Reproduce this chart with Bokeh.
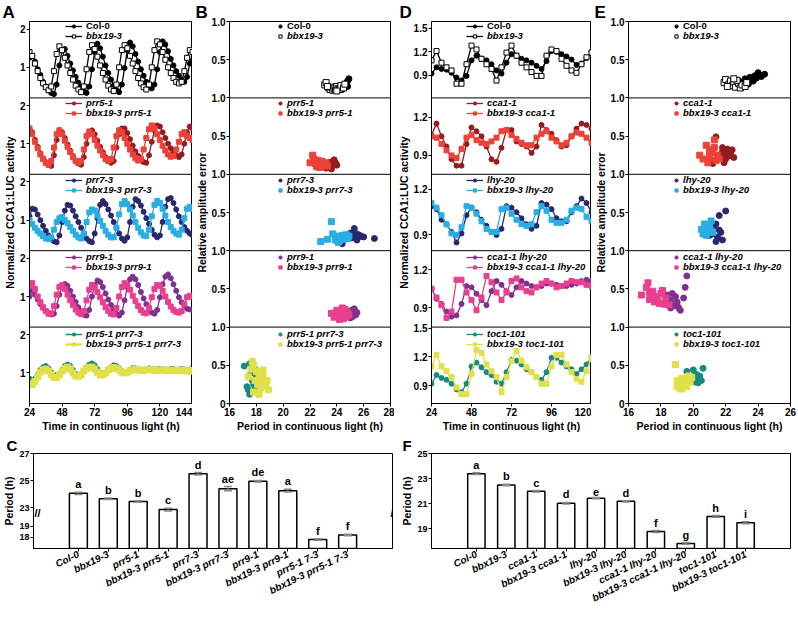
from bokeh.plotting import figure
from bokeh.models import (Range1d, FactorRange, FixedTicker, Span, Label, Legend, LegendItem, Title)
from bokeh.core.properties import value
from bokeh.layouts import row, column
from bokeh.embed import file_html
from bokeh.resources import INLINE

FONT = "Liberation Sans"
FRAME_H = 385
PANEL_H = FRAME_H / 5
TOP_B = 20
BOT_B = 29
ITEM_H = 12

BLACK = "#000000"; DRED = "#951c21"; RED = "#ec4238"; NAVY = "#29286e"; CYAN = "#29aee4"
PURPLE = "#7e3190"; PINK = "#ea3f8f"; TEAL = "#168a80"; YELLOW = "#e2e04a"

# ---------------- data: panel A (time every 2 h) ----------------
TIME_A = [24, 26, 28, 30, 32, 34, 36, 38, 40, 42, 44, 46, 48, 50, 52, 54, 56, 58, 60, 62,
          64, 66, 68, 70, 72, 74, 76, 78, 80, 82, 84, 86, 88, 90, 92, 94, 96, 98, 100, 102,
          104, 106, 108, 110, 112, 114, 116, 118, 120, 122, 124, 126, 128, 130, 132, 134,
          136, 138, 140, 142, 144]
A_COL0 = [1.25, 1.30, 1.15, 0.95, 0.80, 0.62, 0.50, 0.40, 0.33, 0.30,
          0.55, 1.05, 1.45, 1.48, 1.30, 1.10, 0.92, 0.75, 0.60, 0.48,
          0.38, 0.33, 0.50, 0.95, 1.40, 1.62, 1.50, 1.28, 1.05, 0.85,
          0.68, 0.52, 0.40, 0.35, 0.55, 0.98, 1.45, 1.65, 1.55, 1.35,
          1.15, 0.95, 0.78, 0.62, 0.52, 0.45, 0.55, 0.95, 1.40, 1.68,
          1.60, 1.42, 1.22, 1.05, 0.90, 0.78, 0.68, 0.62, 0.75, 1.10, 1.40]
A_BBX193 = [1.40, 1.30, 1.10, 0.90, 0.72, 0.58, 0.48, 0.40, 0.50, 0.90,
            1.35, 1.55, 1.45, 1.25, 1.05, 0.85, 0.68, 0.52, 0.42, 0.35,
            0.50, 0.95, 1.40, 1.58, 1.48, 1.28, 1.05, 0.85, 0.68, 0.52,
            0.42, 0.38, 0.55, 1.00, 1.45, 1.58, 1.50, 1.30, 1.10, 0.90,
            0.72, 0.58, 0.48, 0.42, 0.55, 1.00, 1.45, 1.68, 1.60, 1.40,
            1.20, 1.00, 0.85, 0.72, 0.62, 0.58, 0.62, 0.90, 1.25, 1.45, 1.40]
A_PRR51 = [1.40, 1.30, 1.10, 0.92, 0.75, 0.62, 0.52, 0.45, 0.42, 0.70,
           1.10, 1.35, 1.30, 1.15, 0.98, 0.82, 0.68, 0.56, 0.48, 0.45,
           0.65, 1.00, 1.30, 1.35, 1.25, 1.08, 0.92, 0.78, 0.65, 0.55,
           0.50, 0.55, 0.90, 1.25, 1.40, 1.40, 1.28, 1.12, 0.95, 0.80,
           0.68, 0.58, 0.52, 0.50, 0.70, 1.05, 1.35, 1.48, 1.45, 1.30,
           1.15, 1.00, 0.88, 0.78, 0.70, 0.65, 0.72, 1.00, 1.30, 1.45, 1.40]
A_BBX_PRR51 = [1.40, 1.25, 1.05, 0.88, 0.72, 0.60, 0.50, 0.45, 0.55, 0.90,
               1.25, 1.35, 1.25, 1.08, 0.92, 0.78, 0.65, 0.55, 0.50, 0.55,
               0.85, 1.20, 1.32, 1.25, 1.10, 0.95, 0.82, 0.70, 0.60, 0.55,
               0.60, 0.90, 1.20, 1.35, 1.30, 1.15, 1.00, 0.85, 0.72, 0.62,
               0.56, 0.60, 0.85, 1.15, 1.38, 1.48, 1.40, 1.25, 1.10, 0.95,
               0.82, 0.72, 0.66, 0.68, 0.85, 1.05, 1.25, 1.30, 1.20, 1.15, 1.10]
A_PRR73 = [1.10, 1.30, 1.28, 1.15, 1.00, 0.85, 0.72, 0.60, 0.50, 0.45,
           0.42, 0.60, 0.95, 1.25, 1.40, 1.38, 1.25, 1.10, 0.95, 0.80,
           0.65, 0.52, 0.45, 0.42, 0.65, 1.05, 1.40, 1.50, 1.42, 1.28,
           1.12, 0.95, 0.80, 0.65, 0.52, 0.46, 0.55, 0.95, 1.35, 1.55,
           1.50, 1.38, 1.22, 1.05, 0.90, 0.75, 0.62, 0.55, 0.60, 0.95,
           1.35, 1.55, 1.58, 1.45, 1.28, 1.10, 0.95, 0.82, 0.72, 0.65, 0.60]
A_BBX_PRR73 = [1.00, 0.90, 0.80, 0.72, 0.65, 0.58, 0.52, 0.50, 0.55, 0.75,
               0.95, 1.05, 1.08, 1.00, 0.92, 0.82, 0.72, 0.62, 0.55, 0.52,
               0.65, 0.95, 1.20, 1.28, 1.25, 1.12, 0.98, 0.85, 0.72, 0.62,
               0.55, 0.55, 0.80, 1.15, 1.42, 1.50, 1.42, 1.28, 1.12, 0.95,
               0.80, 0.68, 0.60, 0.58, 0.75, 1.10, 1.40, 1.50, 1.45, 1.30,
               1.12, 0.95, 0.82, 0.72, 0.65, 0.62, 0.75, 1.05, 1.30, 1.35, 1.30]
A_PRR91 = [1.00, 1.15, 1.05, 0.92, 0.80, 0.70, 0.62, 0.56, 0.53, 0.55,
           0.75, 1.05, 1.25, 1.33, 1.28, 1.15, 1.00, 0.86, 0.72, 0.60,
           0.52, 0.50, 0.65, 1.00, 1.30, 1.42, 1.38, 1.25, 1.08, 0.92,
           0.78, 0.65, 0.55, 0.50, 0.58, 0.90, 1.25, 1.45, 1.52, 1.45,
           1.30, 1.12, 0.95, 0.80, 0.68, 0.58, 0.55, 0.65, 0.98, 1.32,
           1.52, 1.58, 1.48, 1.32, 1.15, 0.98, 0.85, 0.75, 0.68, 0.66, 0.65]
A_BBX_PRR91 = [1.30, 1.35, 1.20, 1.00, 0.85, 0.72, 0.62, 0.55, 0.56, 0.75,
               1.05, 1.25, 1.30, 1.20, 1.05, 0.90, 0.78, 0.66, 0.58, 0.54,
               0.62, 0.90, 1.18, 1.30, 1.25, 1.12, 0.98, 0.85, 0.72, 0.62,
               0.55, 0.53, 0.70, 1.00, 1.25, 1.35, 1.30, 1.18, 1.02, 0.88,
               0.75, 0.65, 0.58, 0.56, 0.70, 0.98, 1.20, 1.30, 1.28, 1.15,
               1.00, 0.86, 0.74, 0.65, 0.60, 0.58, 0.62, 0.80, 0.98, 1.02, 1.00]
A_PRR5173 = [0.85, 0.80, 0.85, 0.95, 1.08, 1.15, 1.18, 1.12, 1.02, 0.95,
             0.92, 0.98, 1.08, 1.18, 1.22, 1.18, 1.08, 0.98, 0.92, 0.95,
             1.05, 1.15, 1.22, 1.25, 1.20, 1.10, 1.00, 0.95, 0.98, 1.08,
             1.15, 1.20, 1.18, 1.12, 1.05, 1.00, 1.02, 1.08, 1.12, 1.12,
             1.10, 1.08, 1.08, 1.10, 1.12, 1.10, 1.08, 1.10, 1.11, 1.10,
             1.08, 1.09, 1.10, 1.10, 1.08, 1.09, 1.10, 1.09, 1.08, 1.09, 1.08]
A_BBX_PRR5173 = [0.72, 0.70, 0.78, 0.90, 1.02, 1.08, 1.10, 1.05, 0.95, 0.88,
                 0.88, 0.95, 1.05, 1.12, 1.15, 1.10, 1.00, 0.92, 0.90, 0.95,
                 1.05, 1.12, 1.15, 1.15, 1.10, 1.02, 0.95, 0.95, 1.00, 1.08,
                 1.12, 1.14, 1.12, 1.08, 1.02, 1.00, 1.02, 1.06, 1.08, 1.09,
                 1.08, 1.07, 1.07, 1.08, 1.09, 1.08, 1.07, 1.07, 1.08, 1.08,
                 1.07, 1.06, 1.07, 1.07, 1.06, 1.06, 1.07, 1.06, 1.05, 1.06, 1.05]

# ---------------- data: panel D (time every 3 h) ----------------
TIME_D = [24, 27, 30, 33, 36, 39, 42, 45, 48, 51, 54, 57, 60, 63, 66, 69, 72, 75, 78, 81,
          84, 87, 90, 93, 96, 99, 102, 105, 108, 111, 114, 117, 120]
D_COL0 = [0.92, 1.00, 0.98, 0.97, 0.93, 0.87, 0.83, 0.89, 1.09, 1.15, 1.11, 1.09, 1.04, 0.96,
          0.92, 1.06, 1.17, 1.15, 1.11, 1.09, 1.06, 1.02, 0.98, 1.08, 1.21, 1.20, 1.17, 1.14,
          1.10, 1.03, 1.05, 1.12, 1.20]
D_BBX193 = [1.09, 1.21, 1.06, 1.00, 0.96, 0.79, 0.79, 1.04, 1.28, 1.23, 1.11, 1.04, 0.98, 0.83,
            1.00, 1.19, 1.28, 1.15, 1.06, 1.00, 0.94, 0.89, 0.89, 1.15, 1.23, 1.21, 1.11, 1.02,
            0.96, 0.93, 1.04, 1.13, 1.19]
D_CCA11 = [1.06, 1.15, 1.05, 0.97, 0.87, 0.82, 0.82, 0.99, 1.12, 1.09, 1.05, 0.97, 0.87, 0.85,
           0.96, 1.10, 1.10, 1.01, 0.99, 0.97, 0.92, 0.97, 1.14, 1.10, 1.07, 1.02, 0.97, 0.98,
           1.05, 1.11, 1.15, 1.14, 1.11]
D_BBX_CCA11 = [1.05, 1.04, 0.99, 0.94, 0.90, 0.88, 0.95, 1.04, 1.06, 1.02, 1.00, 0.99, 1.01,
               1.04, 1.09, 1.10, 1.06, 1.03, 1.00, 0.98, 0.98, 1.04, 1.07, 1.09, 1.04, 1.01,
               0.98, 1.00, 1.05, 1.08, 1.07, 1.04, 1.00]
D_LHY20 = [1.09, 1.07, 1.00, 0.97, 0.92, 0.85, 0.91, 1.03, 1.08, 1.05, 1.00, 0.96, 0.92, 0.90,
           0.94, 1.09, 1.08, 1.05, 1.01, 0.97, 0.94, 0.96, 1.11, 1.10, 1.07, 1.01, 0.99, 0.99,
           1.05, 1.09, 1.14, 1.11, 1.05]
D_BBX_LHY20 = [1.11, 1.08, 1.03, 0.97, 0.91, 0.90, 0.95, 1.09, 1.08, 1.04, 0.99, 0.94, 0.92,
               0.92, 1.07, 1.08, 1.04, 1.00, 0.97, 0.96, 0.97, 1.05, 1.09, 1.06, 1.00, 0.98,
               0.98, 1.00, 1.06, 1.08, 1.07, 1.02, 0.99]
D_CCA_LHY = [1.05, 0.97, 0.93, 0.87, 0.83, 0.84, 0.93, 1.07, 1.06, 1.01, 0.96, 0.92, 1.03,
             1.11, 1.08, 1.03, 1.00, 1.06, 1.11, 1.09, 1.07, 1.06, 1.07, 1.09, 1.09, 1.08,
             1.07, 1.07, 1.08, 1.09, 1.11, 1.12, 1.11]
D_BBX_CCA_LHY = [1.05, 0.98, 0.92, 0.82, 0.87, 1.12, 1.12, 1.02, 0.96, 0.88, 0.98, 1.15, 1.10,
                 1.02, 0.96, 1.02, 1.11, 1.13, 1.06, 1.03, 1.02, 1.06, 1.09, 1.11, 1.09, 1.06,
                 1.07, 1.09, 1.11, 1.10, 1.10, 1.08, 1.07]
D_TOC1 = [0.92, 1.01, 0.98, 0.96, 0.92, 0.86, 0.83, 0.92, 1.10, 1.14, 1.09, 1.04, 1.01, 0.94,
          0.92, 1.04, 1.17, 1.16, 1.12, 1.07, 1.04, 0.99, 0.96, 1.04, 1.19, 1.19, 1.14, 1.10,
          1.07, 1.02, 1.07, 1.12, 1.20]
D_BBX_TOC1 = [1.10, 1.22, 1.10, 1.05, 0.99, 0.88, 0.81, 0.81, 1.02, 1.27, 1.24, 1.12, 1.05,
              0.99, 0.83, 0.99, 1.16, 1.26, 1.16, 1.09, 1.04, 0.99, 0.92, 0.92, 1.10, 1.22,
              1.22, 1.12, 1.04, 0.97, 0.94, 1.05, 1.19]

# ---------------- data: panel B (period, relative amplitude error) ----------------
B_COL0_P = [23.9, 24.1, 24.2, 24.3, 24.4, 24.5, 24.6, 24.7, 24.8, 24.9, 24.4, 24.6, 24.2, 24.7, 24.5, 24.8]
B_COL0_R = [0.14, 0.13, 0.16, 0.12, 0.15, 0.13, 0.18, 0.16, 0.22, 0.25, 0.11, 0.14, 0.12, 0.19, 0.17, 0.15]
B_BBX_P = [23.1, 23.2, 23.4, 23.5, 23.6, 23.7, 23.8, 23.9, 24.0, 24.1, 24.2, 24.3, 24.5, 24.6, 23.3, 24.0]
B_BBX_R = [0.17, 0.20, 0.13, 0.11, 0.14, 0.10, 0.12, 0.10, 0.15, 0.12, 0.11, 0.16, 0.13, 0.18, 0.15, 0.09]
B_PRR51_P = [23.0, 23.2, 23.3, 23.4, 23.5, 23.6, 23.7, 23.8, 23.9, 24.0, 23.4, 23.6, 23.2, 23.8, 23.5]
B_PRR51_R = [0.10, 0.08, 0.12, 0.09, 0.14, 0.10, 0.13, 0.17, 0.15, 0.12, 0.11, 0.07, 0.13, 0.19, 0.16]
B_BBX_PRR51_P = [22.0, 22.2, 22.3, 22.4, 22.5, 22.6, 22.7, 22.8, 22.9, 23.0, 23.1, 23.2, 22.5, 22.7, 22.9, 23.3]
B_BBX_PRR51_R = [0.15, 0.25, 0.20, 0.14, 0.12, 0.18, 0.13, 0.16, 0.11, 0.14, 0.12, 0.15, 0.10, 0.09, 0.17, 0.11]
B_PRR73_P = [24.6, 24.9, 25.0, 25.1, 25.2, 25.3, 25.4, 25.5, 25.6, 25.7, 25.8, 26.0, 26.8, 25.3, 25.5, 24.4]
B_PRR73_R = [0.20, 0.18, 0.23, 0.17, 0.21, 0.19, 0.16, 0.22, 0.18, 0.20, 0.19, 0.18, 0.16, 0.29, 0.14, 0.09]
B_BBX_PRR73_P = [22.8, 23.3, 23.6, 23.9, 24.0, 24.2, 24.3, 24.4, 24.5, 24.6, 24.7, 24.8, 24.1, 24.9, 23.7]
B_BBX_PRR73_R = [0.12, 0.15, 0.38, 0.14, 0.19, 0.13, 0.17, 0.20, 0.15, 0.18, 0.21, 0.16, 0.11, 0.19, 0.22]
B_PRR91_P = [24.7, 24.9, 25.0, 25.1, 25.2, 25.3, 25.4, 25.5, 25.0, 25.2, 24.8]
B_PRR91_R = [0.17, 0.20, 0.15, 0.22, 0.18, 0.24, 0.16, 0.19, 0.12, 0.14, 0.21]
B_BBX_PRR91_P = [23.6, 23.8, 24.0, 24.1, 24.2, 24.3, 24.4, 24.5, 24.6, 24.7, 24.8, 24.9, 24.2, 24.5, 23.9, 24.6]
B_BBX_PRR91_R = [0.18, 0.13, 0.22, 0.15, 0.19, 0.12, 0.25, 0.17, 0.21, 0.14, 0.19, 0.16, 0.10, 0.11, 0.16, 0.23]
B_PRR5173_P = [17.1, 17.3, 17.4, 17.5, 17.6, 17.7, 17.8, 17.9, 18.0, 18.1, 18.2, 18.3, 17.5, 17.9, 18.1]
B_PRR5173_R = [0.49, 0.22, 0.18, 0.52, 0.40, 0.30, 0.25, 0.20, 0.35, 0.28, 0.15, 0.22, 0.12, 0.45, 0.38]
B_BBX_PRR5173_P = [17.4, 17.6, 17.7, 17.8, 17.9, 18.0, 18.1, 18.2, 18.3, 18.4, 18.5, 18.6, 18.7, 18.8, 18.9, 17.8, 18.2, 18.5]
B_BBX_PRR5173_R = [0.35, 0.45, 0.55, 0.50, 0.30, 0.42, 0.25, 0.38, 0.20, 0.32, 0.44, 0.28, 0.22, 0.30, 0.18, 0.15, 0.12, 0.36]

# ---------------- data: panel E ----------------
E_COL0_P = [22.8, 23.0, 23.2, 23.3, 23.5, 23.6, 23.8, 23.9, 24.0, 24.1, 24.2, 24.4, 23.4, 23.7, 24.0]
E_COL0_R = [0.22, 0.20, 0.25, 0.21, 0.27, 0.24, 0.29, 0.26, 0.32, 0.30, 0.28, 0.31, 0.18, 0.22, 0.33]
E_BBX_P = [21.9, 22.0, 22.2, 22.3, 22.4, 22.5, 22.6, 22.8, 22.9, 23.0, 23.2, 23.3, 22.1, 22.7, 22.5]
E_BBX_R = [0.20, 0.24, 0.18, 0.22, 0.16, 0.21, 0.14, 0.19, 0.13, 0.17, 0.15, 0.20, 0.15, 0.23, 0.25]
E_CCA11_P = [21.2, 21.4, 21.6, 21.7, 21.8, 21.9, 22.0, 22.1, 22.2, 22.3, 22.4, 22.5, 21.9, 22.0, 21.8, 22.2]
E_CCA11_R = [0.14, 0.49, 0.25, 0.22, 0.30, 0.18, 0.27, 0.33, 0.24, 0.28, 0.32, 0.22, 0.15, 0.20, 0.35, 0.30]
E_BBX_CCA11_P = [20.4, 20.6, 20.8, 20.9, 21.0, 21.1, 21.2, 21.3, 21.4, 21.5, 21.6, 21.0, 21.3]
E_BBX_CCA11_R = [0.25, 0.20, 0.38, 0.15, 0.22, 0.32, 0.28, 0.45, 0.18, 0.25, 0.20, 0.30, 0.35]
E_LHY20_P = [20.8, 21.0, 21.1, 21.2, 21.3, 21.4, 21.5, 21.6, 21.7, 21.8, 22.0, 21.6, 21.4, 21.2]
E_LHY20_R = [0.25, 0.20, 0.30, 0.22, 0.28, 0.35, 0.18, 0.46, 0.24, 0.14, 0.52, 0.27, 0.12, 0.33]
E_BBX_LHY20_P = [20.5, 20.6, 20.7, 20.8, 20.9, 21.0, 21.1, 21.2, 20.8, 21.0, 20.7, 21.1]
E_BBX_LHY20_R = [0.28, 0.22, 0.30, 0.25, 0.33, 0.27, 0.39, 0.24, 0.20, 0.31, 0.35, 0.26]
E_CCA_LHY_P = [18.1, 18.3, 18.4, 18.5, 18.6, 18.7, 18.8, 18.9, 19.0, 19.1, 19.2, 19.4, 19.5, 19.6, 18.6, 19.0]
E_CCA_LHY_R = [0.46, 0.38, 0.42, 0.30, 0.35, 0.44, 0.28, 0.40, 0.33, 0.25, 0.22, 0.38, 0.52, 0.67, 0.25, 0.30]
E_BBX_CCA_LHY_P = [16.8, 17.1, 17.2, 17.3, 17.4, 17.5, 17.6, 17.8, 17.9, 18.0, 18.2, 18.3, 18.5, 17.3, 17.6, 18.1]
E_BBX_CCA_LHY_R = [0.42, 0.52, 0.58, 0.45, 0.38, 0.47, 0.40, 0.35, 0.31, 0.44, 0.30, 0.38, 0.29, 0.36, 0.33, 0.48]
E_TOC1_P = [19.6, 19.7, 19.9, 20.0, 20.1, 20.2, 20.3, 20.4, 20.5, 20.6, 20.3, 20.0]
E_TOC1_R = [0.42, 0.30, 0.35, 0.44, 0.28, 0.38, 0.32, 0.36, 0.30, 0.46, 0.27, 0.33]
E_BBX_TOC1_P = [18.9, 19.0, 19.1, 19.2, 19.3, 19.4, 19.5, 19.6, 19.7, 19.8, 19.9, 19.3, 19.5, 19.0]
E_BBX_TOC1_R = [0.51, 0.22, 0.28, 0.20, 0.33, 0.25, 0.30, 0.22, 0.36, 0.28, 0.34, 0.19, 0.26, 0.30]

# ---------------- data: bar charts ----------------
C_LABELS = ["Col-0", "bbx19-3", "prr5-1", "bbx19-3 prr5-1", "prr7-3", "bbx19-3 prr7-3",
            "prr9-1", "bbx19-3 prr9-1", "prr5-1 7-3", "bbx19-3 prr5-1 7-3"]
C_VALUES = [24.05, 23.65, 23.45, 22.85, 25.5, 24.4, 24.95, 24.25, 17.8, 18.2]
C_ERR = [0.08, 0.06, 0.06, 0.10, 0.09, 0.15, 0.06, 0.10, 0.07, 0.07]
C_LETTERS = ["a", "b", "b", "c", "d", "ae", "de", "a", "f", "f"]
F_LABELS = ["Col-0", "bbx19-3", "cca1-1", "bbx19-3 cca1-1", "lhy-20", "bbx19-3 lhy-20",
            "cca1-1 lhy-20", "bbx19-3 cca1-1 lhy-20", "toc1-101", "bbx19-3 toc1-101"]
F_VALUES = [23.4, 22.5, 22.0, 21.05, 21.45, 21.2, 18.8, 17.85, 20.0, 19.5]
F_ERR = [0.07, 0.06, 0.05, 0.06, 0.05, 0.05, 0.08, 0.07, 0.07, 0.08]
F_LETTERS = ["a", "b", "c", "d", "e", "d", "f", "g", "h", "i"]


def style_axis(ax, size="10px"):
    ax.axis_line_color = "black"
    ax.axis_line_width = 1
    ax.major_tick_line_color = "black"
    ax.major_tick_out = 3
    ax.major_tick_in = 0
    ax.minor_tick_line_color = None
    ax.major_label_text_font = FONT
    ax.major_label_text_font_size = size
    ax.major_label_text_font_style = "bold"
    ax.major_label_text_color = "black"
    ax.major_label_standoff = 1
    ax.axis_label_text_font = FONT
    ax.axis_label_text_font_size = "10.5px"
    ax.axis_label_text_font_style = "bold"
    ax.axis_label_text_color = "black"
    ax.axis_label_standoff = 1


def letter_title(p, text, offset, size="17px"):
    p.add_layout(Title(text=text, align="left", offset=offset, standoff=0,
                       text_font=FONT, text_font_size=size, text_font_style="bold",
                       text_color="black"), "above")


def stack_fig(width, lb, rb, xr, xticks, xtitle, ytitle, ranges, yticks, letter):
    p = figure(width=width, height=TOP_B + FRAME_H + BOT_B, x_range=Range1d(*xr),
               y_range=Range1d(0, 5), output_backend="svg", toolbar_location=None,
               title=None, min_border_left=lb, min_border_right=rb,
               min_border_top=TOP_B, min_border_bottom=BOT_B)
    p.xgrid.visible = False
    p.ygrid.visible = False
    p.outline_line_color = "black"
    p.outline_line_alpha = 1
    p.extra_y_ranges = {f"p{k}": Range1d(lo - (4 - k) * (hi - lo), hi + k * (hi - lo))
                        for k, (lo, hi) in enumerate(ranges)}
    xa = p.xaxis[0]
    style_axis(xa)
    xa.ticker = FixedTicker(ticks=xticks)
    xa.axis_label = xtitle
    ya = p.yaxis[0]
    style_axis(ya)
    ya.axis_label = ytitle
    pos, ov = [], {}
    for k, (lo, hi) in enumerate(ranges):
        for v, lab in yticks[k]:
            t = round((4 - k) + (v - lo) / (hi - lo), 5)
            pos.append(t)
            ov[t] = lab
            ov[str(t)] = lab
    ya.ticker = FixedTicker(ticks=pos)
    ya.major_label_overrides = ov
    for b in (1, 2, 3, 4):
        p.add_layout(Span(location=b, dimension="width", line_color="black", line_width=1))
    letter_title(p, letter, -lb)
    return p


def add_leg(p, rends, label, style, x, yc, gw):
    leg = Legend(items=[LegendItem(label=value(label), renderers=rends)],
                 location=(x, FRAME_H - yc - ITEM_H / 2), orientation="vertical",
                 padding=0, margin=0, spacing=0, glyph_width=gw, glyph_height=8,
                 label_height=8, label_standoff=4 if gw > 10 else 3,
                 label_text_font=FONT, label_text_font_size="9.5px",
                 label_text_font_style=style, label_text_color="black",
                 background_fill_alpha=0, border_line_alpha=0)
    p.add_layout(leg)


LEG_Y = (7, 17)


def line_panels(p, k, t, s1, s2, lx):
    for (label, style, color, fill, marker, data, lw, size), yc in zip((s1, s2), LEG_Y):
        r1 = p.line(t, data, line_color=color, line_width=lw, y_range_name=f"p{k}")
        r2 = p.scatter(t, data, marker=marker, size=size, fill_color=fill, line_color=color,
                       line_width=1, y_range_name=f"p{k}")
        add_leg(p, [r1, r2], label, style, lx, PANEL_H * k + yc, 17)


def scatter_panels(p, k, s1, s2, lx):
    for (label, style, color, fill, marker, xs, ys), yc in zip((s1, s2), LEG_Y):
        r = p.scatter(xs, ys, marker=marker, size=6, fill_color=fill, line_color=color,
                      line_width=1, y_range_name=f"p{k}")
        add_leg(p, [r], label, style, lx, PANEL_H * k + yc, 8)


B_IT = "bold italic"
NORM_TITLE = "Normalized CCA1:LUC activity"
RAE_TITLE = "Relative amplitude error"

# ---------------- Panel A ----------------
LB_A = 27
figA = stack_fig(192, LB_A, 0, (24, 144), [24, 48, 72, 96, 120, 144],
                 "Time in continuous light (h)", NORM_TITLE, [(0.2, 2.2)] * 5,
                 [[(1, "1"), (2, "2")]] * 5, "A")
A_SERIES = [
    (("Col-0", "bold", BLACK, BLACK, "circle", A_COL0, 1.3, 5),
     ("bbx19-3", B_IT, BLACK, "white", "square", A_BBX193, 1.3, 5)),
    (("prr5-1", B_IT, DRED, DRED, "circle", A_PRR51, 1.3, 5),
     ("bbx19-3 prr5-1", B_IT, RED, RED, "square", A_BBX_PRR51, 1.3, 5)),
    (("prr7-3", B_IT, NAVY, NAVY, "circle", A_PRR73, 1.3, 5),
     ("bbx19-3 prr7-3", B_IT, CYAN, CYAN, "square", A_BBX_PRR73, 1.3, 5)),
    (("prr9-1", B_IT, PURPLE, PURPLE, "circle", A_PRR91, 1.3, 5),
     ("bbx19-3 prr9-1", B_IT, PINK, PINK, "square", A_BBX_PRR91, 1.3, 5)),
    (("prr5-1 prr7-3", B_IT, TEAL, TEAL, "circle", A_PRR5173, 1.5, 5),
     ("bbx19-3 prr5-1 prr7-3", B_IT, YELLOW, YELLOW, "square", A_BBX_PRR5173, 2.5, 6)),
]
for k, (s1, s2) in enumerate(A_SERIES):
    line_panels(figA, k, TIME_A, s1, s2, 36)

# ---------------- Panel B ----------------
LB_B = 34
RAE_TICKS = [[(0.5, "0.5"), (1.0, "1.0")]] * 4 + [[(0.0, "0"), (0.5, "0.5"), (1.0, "1.0")]]
figB = stack_fig(202, LB_B, 4, (16, 28), [16, 18, 20, 22, 24, 26, 28],
                 "Period in continuous light (h)", RAE_TITLE, [(0.0, 1.0)] * 5, RAE_TICKS, "B")
B_SERIES = [
    (("Col-0", "bold", BLACK, BLACK, "circle", B_COL0_P, B_COL0_R),
     ("bbx19-3", B_IT, BLACK, "white", "square", B_BBX_P, B_BBX_R)),
    (("prr5-1", B_IT, DRED, DRED, "circle", B_PRR51_P, B_PRR51_R),
     ("bbx19-3 prr5-1", B_IT, RED, RED, "square", B_BBX_PRR51_P, B_BBX_PRR51_R)),
    (("prr7-3", B_IT, NAVY, NAVY, "circle", B_PRR73_P, B_PRR73_R),
     ("bbx19-3 prr7-3", B_IT, CYAN, CYAN, "square", B_BBX_PRR73_P, B_BBX_PRR73_R)),
    (("prr9-1", B_IT, PURPLE, PURPLE, "circle", B_PRR91_P, B_PRR91_R),
     ("bbx19-3 prr9-1", B_IT, PINK, PINK, "square", B_BBX_PRR91_P, B_BBX_PRR91_R)),
    (("prr5-1 prr7-3", B_IT, TEAL, TEAL, "circle", B_PRR5173_P, B_PRR5173_R),
     ("bbx19-3 prr5-1 prr7-3", B_IT, YELLOW, YELLOW, "square", B_BBX_PRR5173_P, B_BBX_PRR5173_R)),
]
for k, (s1, s2) in enumerate(B_SERIES):
    scatter_panels(figB, k, s1, s2, 47)

# ---------------- Panel D ----------------
LB_D = 32
D_RANGES = [(0.607, 1.59), (0.752, 1.352), (0.796, 1.30), (0.748, 1.348), (0.713, 1.51)]
D_T3 = [(0.9, "0.9"), (1.2, "1.2"), (1.5, "1.5")]
D_T2 = [(0.9, "0.9"), (1.2, "1.2")]
figD = stack_fig(197, LB_D, 0, (24, 120), [24, 48, 72, 96, 120],
                 "Time in continuous light (h)", NORM_TITLE, D_RANGES,
                 [D_T3, D_T2, D_T2, D_T2, D_T3], "D")
D_SERIES = [
    (("Col-0", "bold", BLACK, BLACK, "circle", D_COL0, 1.3, 5),
     ("bbx19-3", B_IT, BLACK, "white", "square", D_BBX193, 1.3, 5)),
    (("cca1-1", B_IT, DRED, DRED, "circle", D_CCA11, 1.3, 5),
     ("bbx19-3 cca1-1", B_IT, RED, RED, "square", D_BBX_CCA11, 1.3, 5)),
    (("lhy-20", B_IT, NAVY, NAVY, "circle", D_LHY20, 1.3, 5),
     ("bbx19-3 lhy-20", B_IT, CYAN, CYAN, "square", D_BBX_LHY20, 1.3, 5)),
    (("cca1-1 lhy-20", B_IT, PURPLE, PURPLE, "circle", D_CCA_LHY, 1.3, 5),
     ("bbx19-3 cca1-1 lhy-20", B_IT, PINK, PINK, "square", D_BBX_CCA_LHY, 1.3, 5)),
    (("toc1-101", B_IT, TEAL, TEAL, "circle", D_TOC1, 1.3, 5),
     ("bbx19-3 toc1-101", B_IT, YELLOW, YELLOW, "square", D_BBX_TOC1, 1.3, 5)),
]
for k, (s1, s2) in enumerate(D_SERIES):
    line_panels(figD, k, TIME_D, s1, s2, 35)

# ---------------- Panel E ----------------
LB_E = 34
figE = stack_fig(206, LB_E, 7, (16, 26), [16, 18, 20, 22, 24, 26],
                 "Period in continuous light (h)", RAE_TITLE, [(0.0, 1.0)] * 5, RAE_TICKS, "E")
E_SERIES = [
    (("Col-0", "bold", BLACK, BLACK, "circle", E_COL0_P, E_COL0_R),
     ("bbx19-3", B_IT, BLACK, "white", "square", E_BBX_P, E_BBX_R)),
    (("cca1-1", B_IT, DRED, DRED, "circle", E_CCA11_P, E_CCA11_R),
     ("bbx19-3 cca1-1", B_IT, RED, RED, "square", E_BBX_CCA11_P, E_BBX_CCA11_R)),
    (("lhy-20", B_IT, NAVY, NAVY, "circle", E_LHY20_P, E_LHY20_R),
     ("bbx19-3 lhy-20", B_IT, CYAN, CYAN, "square", E_BBX_LHY20_P, E_BBX_LHY20_R)),
    (("cca1-1 lhy-20", B_IT, PURPLE, PURPLE, "circle", E_CCA_LHY_P, E_CCA_LHY_R),
     ("bbx19-3 cca1-1 lhy-20", B_IT, PINK, PINK, "square", E_BBX_CCA_LHY_P, E_BBX_CCA_LHY_R)),
    (("toc1-101", B_IT, TEAL, TEAL, "circle", E_TOC1_P, E_TOC1_R),
     ("bbx19-3 toc1-101", B_IT, YELLOW, YELLOW, "square", E_BBX_TOC1_P, E_BBX_TOC1_R)),
]
for k, (s1, s2) in enumerate(E_SERIES):
    scatter_panels(figE, k, s1, s2, 44)


# ---------------- bar helpers ----------------
def bar_group(p, idx, labels, vals, errs, letters, base, width, rname):
    xs = [labels[i] for i in idx]
    vs = [vals[i] for i in idx]
    hi = [vals[i] + errs[i] for i in idx]
    lo = [vals[i] - errs[i] for i in idx]
    lt = [letters[i] for i in idx]
    kw = {} if rname is None else {"y_range_name": rname}
    p.vbar(x=xs, top=vs, bottom=base, width=width, fill_color="white",
           line_color="black", line_width=1.5, **kw)
    p.segment(x0=xs, y0=lo, x1=xs, y1=hi, line_color="#8a8a8a", line_width=1.2, **kw)
    p.scatter(xs, hi, marker="dash", size=8, line_color="#8a8a8a", line_width=1.5, **kw)
    p.scatter(xs, lo, marker="dash", size=8, line_color="#8a8a8a", line_width=1.5, **kw)
    p.text(x=xs, y=hi, text=lt, text_align="center", text_baseline="bottom",
           y_offset=-2, text_font=value(FONT), text_font_size=value("11px"),
           text_font_style=value("bold"), text_color="black", **kw)


BOT_H = 177
BAR_TOP_B = 17
BAR_BOT_B = 58
BAR_FRAME = BOT_H - BAR_TOP_B - BAR_BOT_B

# ---------------- Panel C (broken y axis) ----------------
C_LOW = (17.0, 20.0)      # lower axis segment
C_UP = (22.45, 27.0)      # upper axis segment
LOW_PX = 36
l_scale = LOW_PX / (C_LOW[1] - C_LOW[0])
u_scale = (BAR_FRAME - LOW_PX) / (C_UP[1] - C_UP[0])
u_start = C_UP[0] - LOW_PX / u_scale
figC = figure(width=398, height=BOT_H,
              x_range=FactorRange(factors=C_LABELS, range_padding=1.0,
                                  range_padding_units="absolute"),
              y_range=Range1d(C_LOW[0], C_LOW[0] + BAR_FRAME / l_scale),
              output_backend="svg", toolbar_location=None, title=None,
              min_border_left=27, min_border_right=6, min_border_top=BAR_TOP_B,
              min_border_bottom=BAR_BOT_B)
figC.extra_y_ranges = {"up": Range1d(u_start, C_UP[1])}
figC.grid.visible = False
figC.outline_line_color = "black"
ya = figC.yaxis[0]
style_axis(ya, "9px")
ya.axis_label = "Period (h)"
c_ticks, c_ov = [], {}
for v in (18, 19):
    c_ticks.append(float(v)); c_ov[float(v)] = str(v); c_ov[str(float(v))] = str(v)
for v in (23, 25, 27):
    t = round(C_LOW[0] + (v - u_start) * u_scale / l_scale, 5)
    c_ticks.append(t); c_ov[t] = str(v); c_ov[str(t)] = str(v)
ya.ticker = FixedTicker(ticks=c_ticks)
ya.major_label_overrides = c_ov
xa = figC.xaxis[0]
style_axis(xa, "10px")
xa.major_label_orientation = 0.45
xa.major_label_text_font_style = "bold italic"
xa.major_label_standoff = 2
hi_idx = [i for i, v in enumerate(C_VALUES) if v >= C_UP[0]]
lo_idx = [i for i, v in enumerate(C_VALUES) if v <= C_LOW[1]]
bar_group(figC, hi_idx, C_LABELS, C_VALUES, C_ERR, C_LETTERS, C_LOW[0], 0.6, "up")
bar_group(figC, lo_idx, C_LABELS, C_VALUES, C_ERR, C_LETTERS, C_LOW[0], 0.6, None)
for bx, al in ((1, "left"), (363, "right")):
    figC.add_layout(Label(x=bx, y=LOW_PX, x_units="screen", y_units="screen", text="//",
                          text_align=al, text_baseline="middle", text_font=FONT,
                          text_font_size="11px", text_font_style="bold", text_color="black"))
letter_title(figC, "C", -27, "15px")

# ---------------- Panel F ----------------
F_BOTTOM = 17.45
figF = figure(width=399, height=BOT_H,
              x_range=FactorRange(factors=F_LABELS, range_padding=1.0,
                                  range_padding_units="absolute"),
              y_range=Range1d(F_BOTTOM, 25.0), output_backend="svg", toolbar_location=None,
              title=None, min_border_left=29, min_border_right=7, min_border_top=BAR_TOP_B,
              min_border_bottom=BAR_BOT_B)
figF.grid.visible = False
figF.outline_line_color = "black"
style_axis(figF.yaxis[0], "9px")
figF.yaxis[0].ticker = FixedTicker(ticks=[19, 21, 23, 25])
figF.yaxis[0].axis_label = "Period (h)"
style_axis(figF.xaxis[0], "10px")
figF.xaxis[0].major_label_orientation = 0.45
figF.xaxis[0].major_label_text_font_style = "bold italic"
figF.xaxis[0].major_label_standoff = 2
bar_group(figF, list(range(len(F_VALUES))), F_LABELS, F_VALUES, F_ERR, F_LETTERS,
          F_BOTTOM, 0.58, None)
letter_title(figF, "F", -29, "15px")

layout = column(row(figA, figB, figD, figE), row(figC, figF))
open("out.html", "w").write(file_html(layout, INLINE, "CCA1:LUC rhythms"))
